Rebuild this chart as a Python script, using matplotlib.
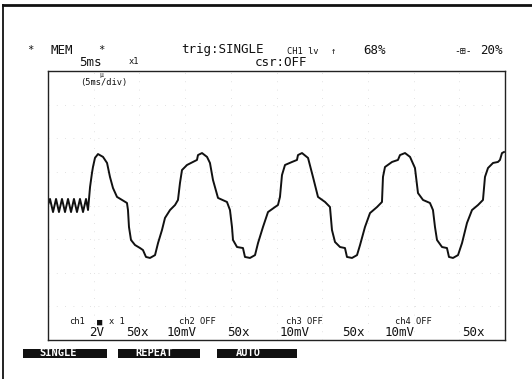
import matplotlib
matplotlib.use("Agg")
import numpy as np
import matplotlib.pyplot as plt
from matplotlib.patches import Rectangle
from matplotlib.lines import Line2D

# CH1 trace: time in ms (5 ms/div, 10 div), voltage in V (2 V/div, 8 div)
time_ms = [0.00, 0.22, 0.55, 0.88, 1.20, 1.53, 1.86, 2.19, 2.52, 2.84, 3.17, 3.50, 3.83, 4.16, 4.38,
           4.60, 4.81, 4.92, 5.14, 5.47, 6.02, 6.46, 6.78, 7.11, 7.55, 8.10, 8.64, 8.75, 8.86, 9.08,
           9.52, 10.07, 10.39, 10.72, 11.16, 11.71, 12.04, 12.47, 12.80, 13.35, 13.90, 14.22, 14.44,
           14.66, 15.21, 15.86, 16.30, 16.41, 16.85, 17.40, 17.72, 18.05, 18.60, 19.58, 19.91, 20.13,
           20.24, 20.68, 21.33, 21.55, 22.10, 22.65, 22.98, 23.52, 24.07, 24.84, 25.16, 25.38, 25.60,
           25.93, 26.70, 27.24, 27.35, 27.79, 28.45, 28.99, 29.54, 30.31, 30.85, 31.07, 31.40, 31.95,
           32.49, 32.71, 33.26, 33.81, 34.14, 34.68, 35.23, 36.00, 36.54, 36.65, 36.87, 37.64, 38.29,
           38.51, 39.06, 39.61, 40.15, 40.48, 41.03, 41.79, 42.12, 42.34, 42.56, 43.11, 43.65, 43.87,
           44.31, 44.86, 45.30, 45.84, 46.39, 47.05, 47.59, 47.81, 48.14, 48.69, 49.23, 49.45, 49.67,
           49.89]
volts = [0.03, 0.39, -0.39, 0.39, -0.39, 0.39, -0.39, 0.39, -0.39, 0.39, -0.39, 0.39, -0.39, 0.39, -0.27,
         1.10, 1.93, 2.29, 2.83, 3.06, 2.89, 2.53, 1.70, 1.04, 0.51, 0.33, 0.15, -0.27, -1.28, -2.05,
         -2.35, -2.53, -2.65, -3.06, -3.12, -2.95, -2.23, -1.46, -0.74, -0.27, 0.03, 0.33, 1.34,
         2.11, 2.41, 2.59, 2.71, 3.00, 3.12, 2.89, 2.53, 1.52, 0.45, 0.21, -0.27, -1.28,
         -2.05, -2.47, -2.53, -3.06, -3.12, -2.95, -2.23, -1.28, -0.39, -0.09, 0.03, 0.51, 1.81,
         2.41, 2.59, 2.71, 3.00, 3.12, 2.83, 1.70, 0.51, 0.21, -0.09, -1.46, -2.17, -2.47,
         -2.53, -3.06, -3.12, -2.95, -2.35, -1.28, -0.45, -0.09, 0.21, 1.70, 2.29, 2.59, 2.71,
         3.00, 3.12, 2.89, 2.23, 0.74, 0.33, 0.15, -0.27, -1.28, -2.05, -2.47, -2.53, -3.06,
         -3.12, -2.95, -2.23, -1.04, -0.27, 0.03, 0.33, 1.70, 2.23, 2.53, 2.59, 2.71, 3.12,
         3.18]

header_big_1 = ["*", "MEM", "*", "trig:SINGLE", "68%", "20%"]
header_small_1 = ["CH1 lv", "↑"]
header_big_2 = ["5ms", "csr:OFF"]
header_small_2 = ["x1"]
timebase_label = "(5ms/div)"
channel_labels = ["ch1", "■", "x 1", "ch2 OFF", "ch3 OFF", "ch4 OFF"]
channel_values = ["2V", "50x", "10mV", "50x", "10mV", "50x", "10mV", "50x"]
mode_buttons = ["SINGLE", "REPEAT", "AUTO"]

# ---------------- figure ----------------
W, H = 532, 379
fig = plt.figure(figsize=(W / 100, H / 100), dpi=100)
fig.patch.set_facecolor("white")


def fx(x):
    return x / W


def fy(y):
    return 1 - y / H


INK = "#111111"
MONO = ["DejaVu Sans Mono", "DejaVu Sans"]
BIG = 9
SMALL = 6.3

# outer frame (top + left of the scanned page)
fig.add_artist(Line2D([fx(3), fx(532)], [fy(5), fy(5)], color=INK, lw=2.0,
                      transform=fig.transFigure))
fig.add_artist(Line2D([fx(3), fx(3)], [fy(5), fy(379)], color=INK, lw=1.3,
                      transform=fig.transFigure))

# scope screen
ax = fig.add_axes([fx(48), fy(340), 457 / W, 269 / H])
ax.plot(time_ms, volts, color=INK, lw=1.4, solid_joinstyle="round")
ax.set_xlim(0, 50)
ax.set_ylim(-8, 8)
ax.set_xticks(np.arange(0, 51, 5))
ax.set_yticks(np.arange(-8, 9, 2))
ax.tick_params(length=0, labelbottom=False, labelleft=False)
ax.grid(True, color="#d8d8d8", lw=0.6, linestyle=(0, (1, 9)))
for s in ax.spines.values():
    s.set_color("#222222")
    s.set_linewidth(1.0)


def t(x, y, s, size=BIG, **kw):
    fig.text(fx(x), fy(y), s, fontsize=size, family=MONO, color=INK,
             ha="center", va="center", **kw)


# header row 1
big1_x = [30, 62, 101, 222, 375, 491]
for s, x in zip(header_big_1, big1_x):
    t(x, 50, s, size=(7.5 if s == "*" else BIG))
small1_x = [303, 333]
for s, x in zip(header_small_1, small1_x):
    t(x, 51, s, size=SMALL)
t(463, 51, "-⊞-", size=7)

# header row 2
for s, x in zip(header_big_2, [90, 281]):
    t(x, 62, s)
for s, x in zip(header_small_2, [134]):
    t(x, 62, s, size=SMALL)

# time-base label inside the screen
t(104, 82, timebase_label, size=SMALL)
t(101, 76, "μ", size=4.5)

# channel labels and values
for s, x in zip(channel_labels, [77, 100, 117, 197, 304, 413]):
    t(x, 322, s, size=SMALL)
for s, x in zip(channel_values, [97, 137, 182, 238, 295, 353, 400, 473]):
    t(x, 332, s)

# mode buttons (inverted)
btn_boxes = [(23, 107), (118, 200), (217, 297)]
btn_text_x = [58, 154, 248]
for s, (x0, x1), xt in zip(mode_buttons, btn_boxes, btn_text_x):
    fig.add_artist(Rectangle((fx(x0), fy(357.5)), (x1 - x0) / W, 9 / H,
                             transform=fig.transFigure, facecolor=INK,
                             edgecolor=INK, lw=0))
    fig.text(fx(xt), fy(353), s, fontsize=7.5, family=MONO, color="white",
             ha="center", va="center", fontweight="bold")

fig.savefig("out.png", dpi=100, facecolor="white")
